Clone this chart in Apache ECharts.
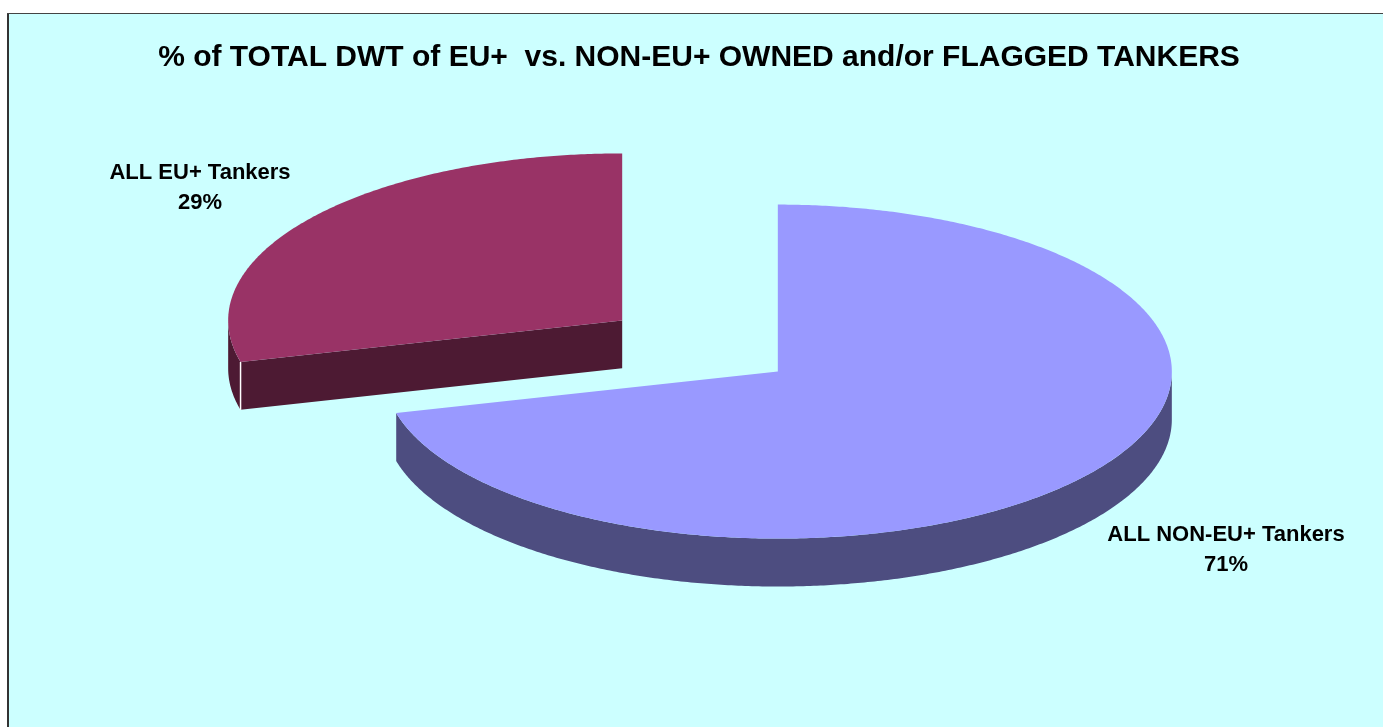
<!DOCTYPE html>
<html>
<head>
<meta charset="utf-8">
<style>html,body{margin:0;padding:0;background:#fff}#chart{width:1383px;height:727px}</style>
<script src="https://cdn.jsdelivr.net/npm/echarts@6/dist/echarts.min.js"></script>
</head>
<body>
<div id="chart"></div>
<script>
// Share of total deadweight tonnage, clockwise from twelve o'clock
const categories = ['ALL NON-EU+ Tankers', 'ALL EU+ Tankers'];
const shares = [71, 29];
const topColors = ['#9999FF', '#993366'];
const sideColors = ['#4D4D80', '#4D1A33'];
const chartTitle = '% of TOTAL DWT of EU+  vs. NON-EU+ OWNED and/or FLAGGED TANKERS';

// Pie geometry in axis units: the rim sits at radius 1 on both hidden axes
const EXPLODE = 0.25;
const DEPTH = 0.287;
const labelAnchors = [[1.335, -1.222], [-1.269, 0.946]];
const TAU = Math.PI * 2;
const total = shares.reduce((a, b) => a + b, 0);

function renderSlice(params, api) {
  const i = params.dataIndex;
  const share = api.value(0);
  const before = shares.slice(0, i).reduce((a, b) => a + b, 0);
  const a0 = before / total * TAU;
  const a1 = (before + share) / total * TAU;
  const mid = (a0 + a1) / 2;
  const cx = EXPLODE * Math.sin(mid);
  const cy = EXPLODE * Math.cos(mid);
  const rim = (t, drop) => api.coord([cx + Math.sin(t), cy + Math.cos(t) - (drop || 0)]);
  const centre = drop => api.coord([cx, cy - (drop || 0)]);
  const sweep = (from, to, drop) => {
    const pts = [];
    const n = Math.max(2, Math.ceil((to - from) / (Math.PI / 360)));
    for (let k = 0; k <= n; k++) pts.push(rim(from + (to - from) * k / n, drop));
    return pts;
  };
  const children = [];

  // Outer wall: only the part of the rim on the near half of the ellipse
  const w0 = Math.max(a0, Math.PI / 2);
  const w1 = Math.min(a1, Math.PI * 1.5);
  if (w1 > w0) {
    children.push({
      type: 'polygon',
      shape: { points: sweep(w0, w1, 0).concat(sweep(w0, w1, DEPTH).reverse()) },
      style: { fill: sideColors[i] }
    });
  }
  // Cut faces that turn toward the viewer
  if (Math.sin(a0) < -1e-6) {
    children.push({
      type: 'polygon',
      shape: { points: [centre(0), rim(a0, 0), rim(a0, DEPTH), centre(DEPTH)] },
      style: { fill: sideColors[i] }
    });
    const edgeTop = rim(a0, 0);
    const edgeBottom = rim(a0, DEPTH);
    children.push({
      type: 'line',
      shape: { x1: edgeTop[0], y1: edgeTop[1], x2: edgeBottom[0], y2: edgeBottom[1] },
      style: { stroke: '#ffffff', lineWidth: 1.5 }
    });
  }
  // Top surface
  children.push({
    type: 'polygon',
    shape: { points: [centre(0)].concat(sweep(a0, a1, 0)) },
    style: { fill: topColors[i] }
  });
  // Category and percentage label
  const at = api.coord(labelAnchors[i]);
  children.push({
    type: 'text',
    style: {
      x: at[0], y: at[1],
      text: categories[i] + '\n' + share + '%',
      align: 'center', verticalAlign: 'middle',
      font: 'bold 22px "Liberation Sans", Arial, sans-serif',
      lineHeight: 30, fill: '#000000'
    }
  });
  return { type: 'group', children };
}

const chart = echarts.init(document.getElementById('chart'), null, { renderer: 'canvas' });
chart.setOption({
  animation: false,
  backgroundColor: '#ffffff',
  title: {
    text: chartTitle,
    left: 694, top: 38, textAlign: 'center',
    textStyle: { fontFamily: '"Liberation Sans", Arial, sans-serif', fontWeight: 'bold', fontSize: 30, color: '#000000' }
  },
  graphic: [
    { type: 'rect', z: 0, shape: { x: 8, y: 13, width: 1400, height: 740 },
      style: { fill: '#CCFFFF', stroke: null } },
    { type: 'line', z: 1, shape: { x1: 8, y1: 13, x2: 8, y2: 727 }, style: { stroke: '#333333', lineWidth: 2 } },
    { type: 'line', z: 1, shape: { x1: 7, y1: 13.5, x2: 1383, y2: 13.5 }, style: { stroke: '#444444', lineWidth: 1 } }
  ],
  grid: { left: 306, top: 179, width: 788, height: 334 },
  xAxis: { type: 'value', min: -1, max: 1, show: false },
  yAxis: { type: 'value', min: -1, max: 1, show: false },
  series: [{
    type: 'custom',
    coordinateSystem: 'cartesian2d',
    renderItem: renderSlice,
    clip: false,
    data: shares.map((v, i) => ({ name: categories[i], value: [v] })),
    encode: { x: [], y: [] }
  }]
});
</script>
</body>
</html>
